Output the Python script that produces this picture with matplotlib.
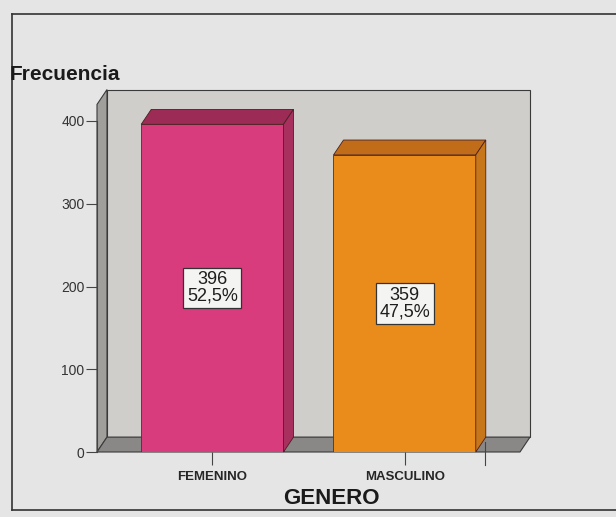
"""SPSS-style 3D bar chart: frequency by GENERO."""
import matplotlib
matplotlib.use("Agg")
import matplotlib.pyplot as plt
from matplotlib.patches import Polygon
from matplotlib.lines import Line2D

plt.rcParams["font.family"] = ["Liberation Sans", "DejaVu Sans"]

categories = ["FEMENINO", "MASCULINO"]
counts = [396, 359]
yticks = [0, 100, 200, 300, 400]

front_colors = ["#d83c7c", "#ea8c1c"]
top_colors = ["#9c2c55", "#c06c18"]
side_colors = ["#a8305e", "#c8761a"]

W, H = 616, 517
fig = plt.figure(figsize=(W / 100, H / 100), dpi=100)
fig.patch.set_facecolor("#e5e5e6")

# axes: y 0 at px 452, 400 at px 121; x from px 97 to 520
ax = fig.add_axes([97 / W, (H - 452) / H, 423 / W, 331 / H])
ax.set_facecolor("none")
XL, XR = -0.6, 1.6
ax.set_xlim(XL, XR)
ax.set_ylim(0, 400)

DX, DY = 0.052, 18  # depth offset in data units
TOP = 420
wall_kw = dict(lw=0.8, ec="#3a3a3a", clip_on=False, zorder=1)
ax.add_patch(Polygon([(XL + DX, DY), (XR + DX, DY), (XR + DX, TOP + DY), (XL + DX, TOP + DY)],
                     fc="#d0cecb", **wall_kw))
ax.add_patch(Polygon([(XL, 0), (XL + DX, DY), (XL + DX, TOP + DY), (XL, TOP)],
                     fc="#a19f9c", **wall_kw))
ax.add_patch(Polygon([(XL, 0), (XR, 0), (XR + DX, DY), (XL + DX, DY)],
                     fc="#8a8886", **wall_kw))

width = 0.74
total = sum(counts)
for i, (v, fc, tc, sc) in enumerate(zip(counts, front_colors, top_colors, side_colors)):
    x0, x1 = i - width / 2, i + width / 2
    ax.bar(i, v, width=width, color=fc, edgecolor="#5a2a30", linewidth=0.6, zorder=3)
    ax.add_patch(Polygon([(x0, v), (x0 + DX, v + DY), (x1 + DX, v + DY), (x1, v)],
                         fc=tc, ec="#4a2020", lw=0.6, zorder=3, clip_on=False))
    ax.add_patch(Polygon([(x1, 0), (x1 + DX, DY), (x1 + DX, v + DY), (x1, v)],
                         fc=sc, ec="#4a2020", lw=0.6, zorder=3, clip_on=False))
    pct = f"{100 * v / total:.1f}%".replace(".", ",")
    ax.text(i, v / 2, f"{v}\n{pct}", ha="center", va="center", fontsize=13,
            color="#1e1e1e", linespacing=0.95, zorder=5,
            bbox=dict(boxstyle="square,pad=0.2", fc="#f4f4f2", ec="#333333", lw=0.9))

for s in ["top", "right", "bottom"]:
    ax.spines[s].set_visible(False)
ax.spines["left"].set_color("#444444")
ax.spines["left"].set_bounds(0, 400)
ax.set_yticks(yticks)
ax.tick_params(axis="y", direction="out", length=8, width=0.8, color="#444444",
               labelsize=10, labelcolor="#333333", pad=1)
ax.set_xticks(range(len(categories)))
ax.set_xticklabels(categories, fontsize=9.5, fontweight="bold", color="#262626")
ax.tick_params(axis="x", direction="out", length=9, width=0.8, color="#444444", pad=5)
ax.plot([1.42, 1.42], [-16, 12], color="#444444", lw=0.8, clip_on=False, zorder=2)

fig.text(10 / W, 1 - 75 / H, "Frecuencia", fontsize=15, fontweight="bold",
         ha="left", va="center", color="#1a1a1a")
fig.text(331 / W, 1 - 498 / H, "GENERO", fontsize=16, fontweight="bold",
         ha="center", va="center", color="#1a1a1a")

# outer frame
fig.add_artist(Line2D([12 / W, 12 / W], [1 - 14 / H, 1 - 510 / H], color="#333333", lw=1.2))
fig.add_artist(Line2D([12 / W, 1], [1 - 14 / H, 1 - 14 / H], color="#333333", lw=1.2))
fig.add_artist(Line2D([12 / W, 1], [1 - 510 / H, 1 - 510 / H], color="#333333", lw=1.2))

fig.savefig("out.png", dpi=100, facecolor=fig.get_facecolor())
